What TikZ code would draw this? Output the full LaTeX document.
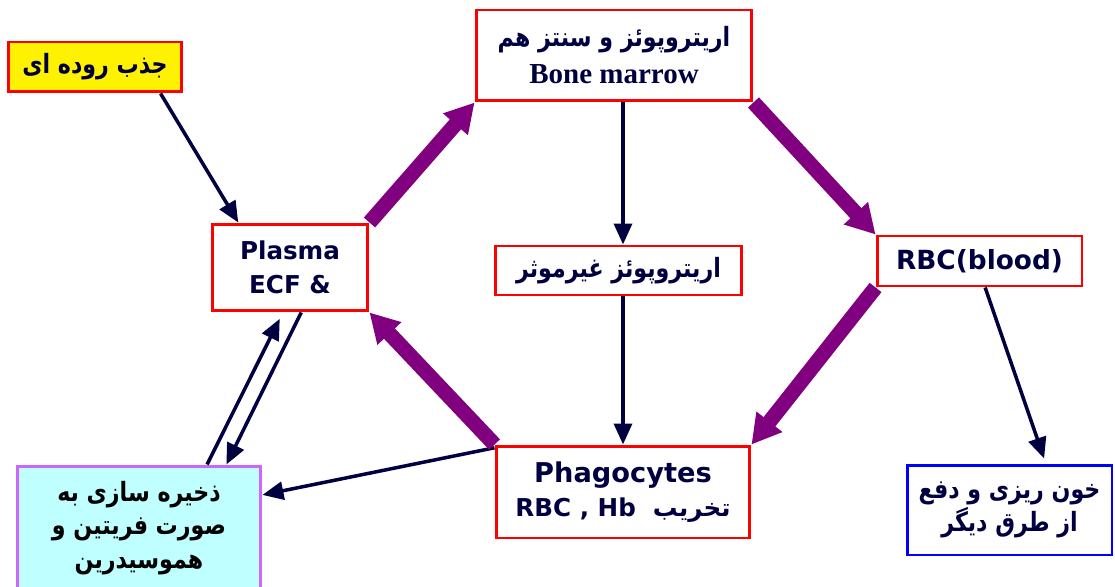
\documentclass[tikz,border=0pt]{standalone}
\usepackage{graphicx}
\usepackage{fontspec}
\setmainfont{DejaVu Sans}
\newfontfamily\farsi[Script=Arabic]{DejaVu Sans}
\newfontfamily\romanb{Liberation Serif}
\TeXXeTstate=1
\usetikzlibrary{arrows.meta}
\definecolor{navy}{RGB}{0,0,64}
\definecolor{plum}{RGB}{128,0,128}
\definecolor{aqua}{RGB}{192,255,255}
\definecolor{orchid}{RGB}{204,102,255}
\newcommand{\fatext}[1]{\scalebox{1}[1.2]{\farsi\fontsize{12.6}{19}\selectfont\beginR #1\endR}}

\begin{document}
\begin{tikzpicture}[x=0.02cm, y=-0.02cm,
		font=\bfseries\fontsize{14}{19}\selectfont, text=navy,
		redbox/.style={draw=red, line width=1.7pt, fill=white, align=center, inner sep=0pt},
		thinarrow/.style={navy, line width=2pt, -{Triangle[length=0.42cm,width=0.36cm]}},
		bigarrow/.style={plum, line width=0.3cm, -{Triangle[length=0.58cm,width=0.62cm]}}]
		\useasboundingbox (0,0) rectangle (1115,587);

		\node[redbox, fill=yellow, minimum width=3.48cm, minimum height=1cm] (jazb) at (95,67) {\fatext{جذب روده ای}};
		\node[redbox, minimum width=5.52cm, minimum height=1.82cm] (bone) at (614,55.5)
			{\fatext{اریتروپوئز و سنتز هم}\\[2pt]{\romanb\fontsize{16.5}{19}\selectfont Bone marrow}};
		\node[redbox, minimum width=3.12cm, minimum height=1.74cm] (plasma) at (290,267.5) {Plasma\\ECF \&};
		\node[redbox, minimum width=4.94cm, minimum height=0.98cm] (ineff) at (618.5,270.5) {\fatext{اریتروپوئز غیرموثر}};
		\node[redbox, minimum width=4.1cm, minimum height=1cm, font=\bfseries\fontsize{15}{19}\selectfont] (rbc) at (979.5,261) {RBC(blood)};
		\node[redbox, draw=orchid, fill=aqua, text=black, minimum width=4.88cm, minimum height=2.48cm] (store) at (139,528)
			{\fatext{ذخیره سازی به}\\\fatext{صورت فریتین و}\\\fatext{هموسیدرین}};
		\node[redbox, minimum width=5.08cm, minimum height=1.84cm] (phago) at (623,492)
			{{\fontsize{15.5}{19}\selectfont Phagocytes}\\{\farsi\beginR تخریب\ \ \beginL RBC , Hb\endL\endR}};
		\node[redbox, draw=blue, minimum width=4.1cm, minimum height=1.8cm] (loss) at (1009.5,510)
			{\fatext{خون ریزی و دفع}\\\fatext{از طرق دیگر}};

		\draw[thinarrow] (jazb.-22) -- (plasma.139);
		\draw[thinarrow] (bone.south -| phago.north) -- (ineff.north -| phago.north);
		\draw[thinarrow] (ineff.south -| phago.north) -- (phago.north);
		\draw[thinarrow, shorten >=3pt] (rbc.-78) -- (loss.52);
		\draw[thinarrow] (plasma.-76) -- (store.36);
		\draw[thinarrow, shorten >=4pt] (store.43) -- (plasma.-99);
		\draw[thinarrow] (phago.161) -- (store.15);

		\draw[bigarrow] (plasma.north east) -- (bone.south west);
		\draw[bigarrow] (bone.south east) -- (rbc.north west);
		\draw[bigarrow] (rbc.south west) -- (phago.north east);
		\draw[bigarrow] (phago.north west) -- (plasma.south east);
	\end{tikzpicture}
\end{document}
